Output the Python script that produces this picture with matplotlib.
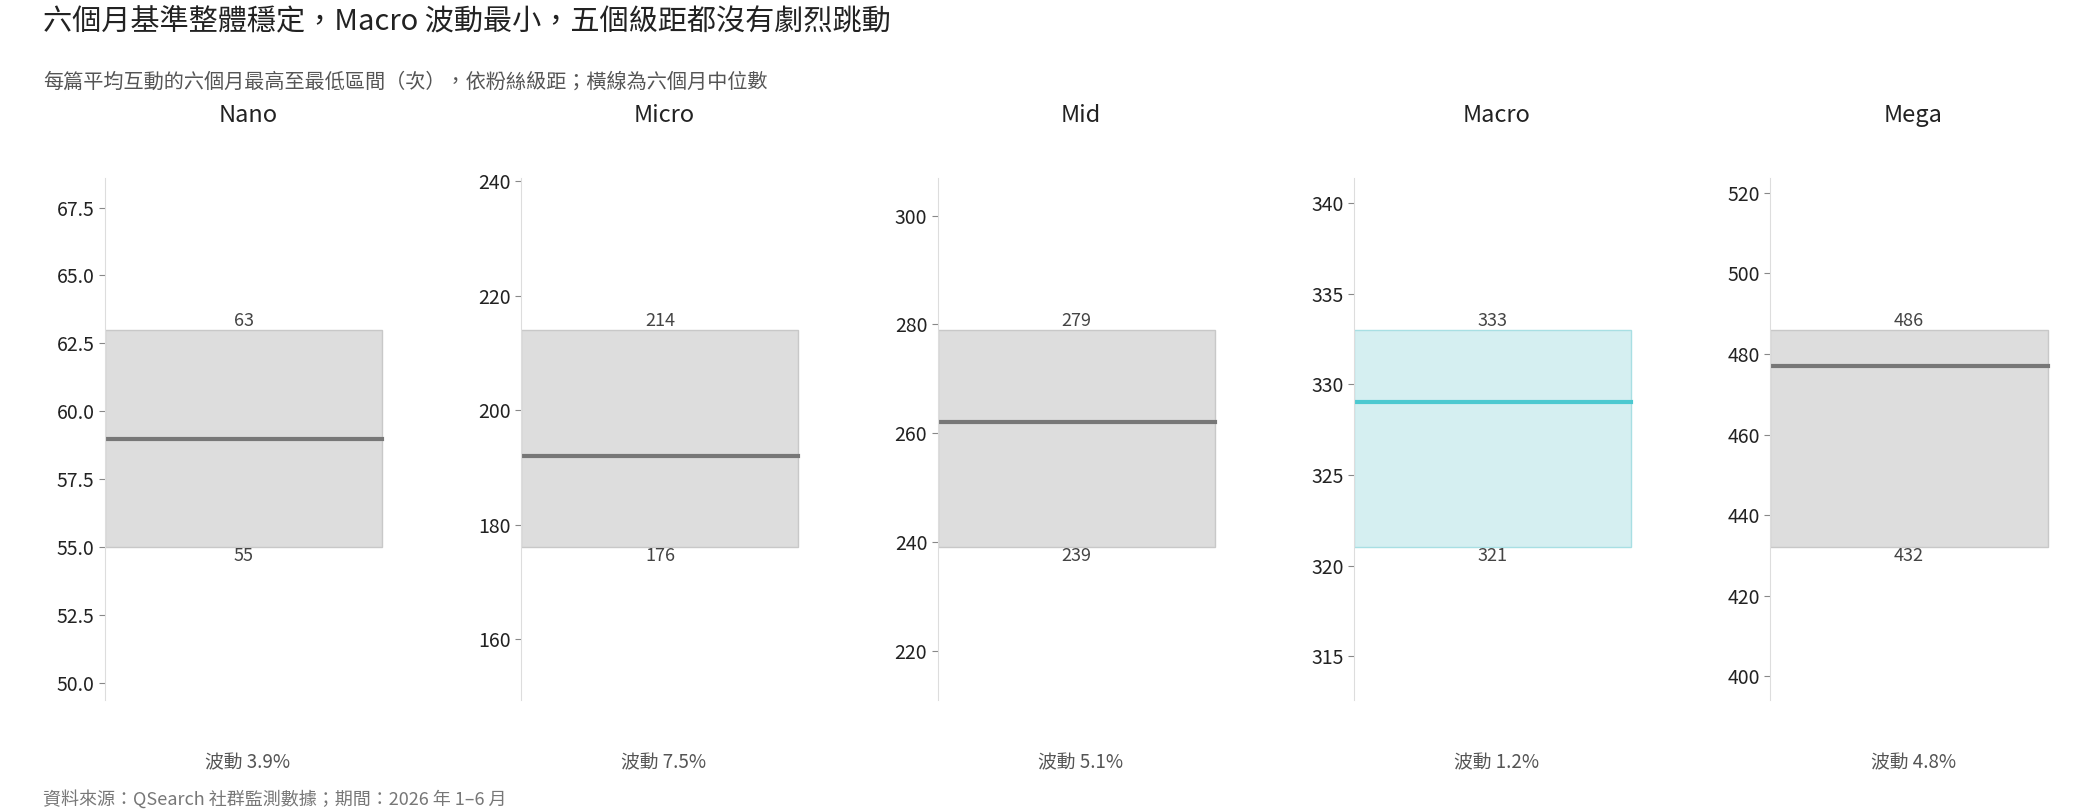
import matplotlib
matplotlib.use("Agg")
import matplotlib.pyplot as plt

plt.rcParams['font.family'] = ['Noto Sans CJK TC', 'DejaVu Sans']

tiers = ["Nano", "Micro", "Mid", "Macro", "Mega"]
highs = [63, 214, 279, 333, 486]
lows = [55, 176, 239, 321, 432]
medians = [59, 192, 262, 329, 477]
vol = ["3.9%", "7.5%", "5.1%", "1.2%", "4.8%"]
highlight = "Macro"

fig = plt.figure(figsize=(21, 8.1), dpi=100)
H = 602.0
for i, t in enumerate(tiers):
    left = (78 + i * 309.3) / 1560
    ax = fig.add_axes([left, 1 - 520 / H, 212 / 1560, (520 - 132) / H])
    hi, lo, med = highs[i], lows[i], medians[i]
    r = hi - lo
    ax.set_ylim(lo - 0.7 * r, hi + 0.7 * r)
    ax.set_xlim(0, 1.03)
    if t == highlight:
        fc, ec, lc = "#d5eff1", "#a8dfe3", "#4cc9d0"
    else:
        fc, ec, lc = "#dddddd", "#c8c8c8", "#777777"
    ax.bar([0.5], [r], bottom=[lo], width=1.0, color=fc, edgecolor=ec, linewidth=1)
    ax.plot([0, 1], [med, med], color=lc, lw=3)
    ax.text(0.5, hi, f"{hi}", ha="center", va="bottom", fontsize=13, color="#444444")
    ax.text(0.5, lo, f"{lo}", ha="center", va="top", fontsize=13, color="#444444")
    for s in ["top", "right", "bottom"]:
        ax.spines[s].set_visible(False)
    ax.spines["left"].set_color("#dddddd")
    ax.set_xticks([])
    ax.tick_params(axis="y", labelsize=14, colors="#222222", length=4, color="#888888")
    ax.set_title(t, fontsize=17, color="#222222", pad=40)
    ax.text(0.5, -0.1, f"波動 {vol[i]}", transform=ax.transAxes, ha="center", va="top",
            fontsize=13.5, color="#555555")

fig.text(32 / 1560, 1 - 16 / H, "六個月基準整體穩定，Macro 波動最小，五個級距都沒有劇烈跳動",
         fontsize=21, color="#222222", va="center")
fig.text(32 / 1560, 1 - 61 / H, "每篇平均互動的六個月最高至最低區間（次），依粉絲級距；橫線為六個月中位數",
         fontsize=14.5, color="#555555", va="center")
fig.text(32 / 1560, 1 - 594 / H, "資料來源：QSearch 社群監測數據；期間：2026 年 1–6 月",
         fontsize=13, color="#777777", va="center")
fig.savefig("out.png", dpi=100)
